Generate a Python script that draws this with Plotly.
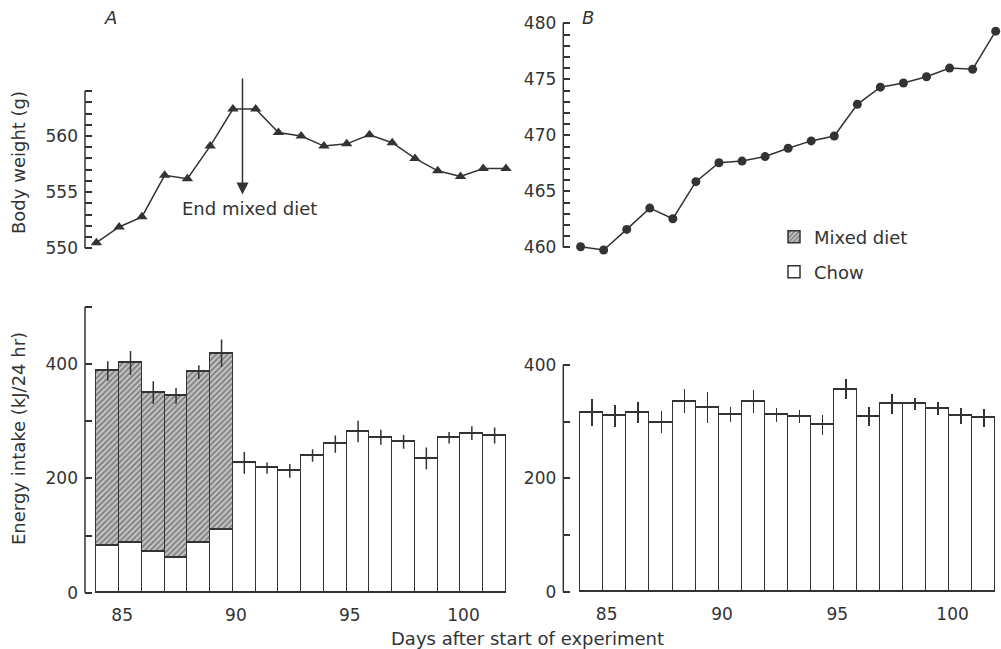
import plotly.graph_objects as go

# ---------------- data ----------------
weight_days = list(range(84, 103))
weight_A = [550.5, 551.9, 552.8, 556.5, 556.2, 559.1, 562.4, 562.4, 560.3, 560.0,
            559.1, 559.3, 560.1, 559.4, 558.0, 556.9, 556.4, 557.1, 557.1]
weight_B = [460.05, 459.76, 461.6, 463.5, 462.55, 465.86, 467.55, 467.7, 468.1, 468.84,
            469.5, 469.94, 472.77, 474.3, 474.67, 475.23, 476.0, 475.9, 479.3]

intake_days = list(range(84, 102))
intake_A = [388, 402, 350, 344, 386, 419, 227, 218, 213, 240, 260, 282, 272, 264, 235, 271, 279, 275]
chow_part_mixed_A = [83, 88, 72, 62, 88, 110]   # chow portion on mixed-diet days
err_A = [17, 21, 20, 14, 12, 24, 19, 10, 12, 11, 15, 19, 13, 12, 19, 10, 12, 14]
intake_B = [316, 310, 316, 299, 336, 325, 313, 336, 312, 309, 294, 357, 309, 331, 331, 323, 310, 307]
err_B = [23, 20, 19, 19, 21, 28, 13, 20, 12, 12, 18, 18, 17, 17, 10, 12, 14, 16]

x_ticks = [85, 90, 95, 100]
arrow_day = 90.42

# ---------------- styling ----------------
INK = "#333333"
FONT = "DejaVu Sans"
W, H = 1001, 649

n_mixed = len(chow_part_mixed_A)
bar_x = [d + 0.5 for d in intake_days]
chow_A = chow_part_mixed_A + intake_A[n_mixed:]
mixed_A = [intake_A[i] - chow_part_mixed_A[i] for i in range(n_mixed)]

fig = go.Figure()

# top panels: body weight
fig.add_trace(go.Scatter(x=weight_days, y=weight_A, mode="lines+markers",
                         line=dict(color=INK, width=1.5),
                         marker=dict(symbol="triangle-up", size=10, color=INK),
                         cliponaxis=False, showlegend=False, xaxis="x", yaxis="y"))
fig.add_trace(go.Scatter(x=weight_days, y=weight_B, mode="lines+markers",
                         line=dict(color=INK, width=1.5),
                         marker=dict(symbol="circle", size=9, color=INK),
                         cliponaxis=False, showlegend=False, xaxis="x2", yaxis="y2"))

# bottom A: stacked bars
fig.add_trace(go.Bar(x=bar_x, y=chow_A, width=1, name="Chow",
                     marker=dict(color="white", line=dict(color=INK, width=1.5)),
                     xaxis="x3", yaxis="y3", showlegend=True, legend="legend2"))
fig.add_trace(go.Bar(x=bar_x[:n_mixed], y=mixed_A, width=1, name="Mixed diet",
                     marker=dict(color="#bdbdbd",
                                 pattern=dict(shape="/", fgcolor="#333333", bgcolor="#c4c4c4",
                                              size=4, solidity=0.45),
                                 line=dict(color=INK, width=1.5)),
                     xaxis="x3", yaxis="y3", showlegend=True, legend="legend"))
fig.add_trace(go.Scatter(x=bar_x, y=intake_A, mode="markers",
                         marker=dict(size=1, opacity=0),
                         error_y=dict(type="data", array=err_A, width=0, thickness=1.5, color=INK),
                         showlegend=False, hoverinfo="skip", xaxis="x3", yaxis="y3"))

# bottom B
fig.add_trace(go.Bar(x=bar_x, y=intake_B, width=1, name="Chow B",
                     marker=dict(color="white", line=dict(color=INK, width=1.5)),
                     error_y=dict(type="data", array=err_B, width=0, thickness=1.5, color=INK),
                     xaxis="x4", yaxis="y4", showlegend=False))

tickfont = dict(family=FONT, size=17, color=INK)
textfont = dict(family=FONT, size=18, color=INK)

def px_x(a, b):
    return [a / W, b / W]

def px_y(top, bottom):
    return [1 - bottom / H, 1 - top / H]

xA = px_x(85, 506)
xB = px_x(563.3, 995.7)

hidden_x = dict(showgrid=False, zeroline=False, showline=False, ticks="",
                showticklabels=False, automargin=False)
bottom_x = dict(showgrid=False, zeroline=False, showline=False, ticks="",
                tickvals=x_ticks, tickfont=tickfont, ticklabelstandoff=8,
                ticklabelshift=3, automargin=False)

def yax(vals, labels_every, rng, dom, anchor):
    return dict(range=rng, domain=dom, anchor=anchor, showgrid=False, zeroline=False,
                showline=False, ticks="inside", ticklen=7, tickwidth=1.5, tickcolor=INK,
                tickvals=vals, automargin=False,
                ticktext=[str(v) if (v - vals[0]) % labels_every == 0 else "" for v in vals],
                tickfont=tickfont, ticklabelstandoff=6)

legend_common = dict(xanchor="left", yanchor="middle", font=textfont,
                     bgcolor="rgba(0,0,0,0)", itemwidth=30)

fig.update_layout(
    width=W, height=H, autosize=False,
    margin=dict(l=0, r=0, t=0, b=0, pad=0, autoexpand=False),
    paper_bgcolor="white", plot_bgcolor="rgba(0,0,0,0)",
    barmode="stack", bargap=0,
    font=dict(family=FONT, color=INK),
    xaxis=dict(hidden_x, range=[83.5, 102], domain=xA, anchor="y"),
    yaxis=yax(list(range(550, 565)), 5, [549.6, 565.5], px_y(74.2, 252.8), "x"),
    xaxis2=dict(hidden_x, range=[83.25, 102], domain=xB, anchor="y2"),
    yaxis2=yax(list(range(460, 481)), 5, [459.5, 480.5], px_y(17.7, 252.9), "x2"),
    xaxis3=dict(bottom_x, range=[83.5, 102], domain=xA, anchor="y3"),
    yaxis3=yax(list(range(0, 501, 100)), 200, [-4, 504], px_y(304.6, 595.0), "x3"),
    xaxis4=dict(bottom_x, range=[83.25, 102], domain=xB, anchor="y4"),
    yaxis4=yax(list(range(0, 401, 100)), 200, [-4, 404], px_y(362.6, 594.0), "x4"),
    legend=dict(legend_common, x=774 / W, y=1 - 237 / H),
    legend2=dict(legend_common, x=774 / W, y=1 - 272 / H),
    showlegend=True,
)

# axis lines ("[" shaped)
for xr, yr, y0, y1 in [("x domain", "y", 550, 564), ("x2 domain", "y2", 460, 480),
                       ("x3 domain", "y3", 0, 500), ("x4 domain", "y4", 0, 400)]:
    fig.add_shape(type="line", xref=xr, yref=yr, x0=0, x1=0, y0=y0, y1=y1,
                  line=dict(color=INK, width=1.5))

# arrow "End mixed diet"
fig.add_annotation(x=arrow_day, y=554.8, ax=arrow_day, ay=565.25, xref="x", yref="y",
                   axref="x", ayref="y", text="", showarrow=True, arrowhead=2,
                   arrowsize=1.6, arrowwidth=1.5, arrowcolor=INK, standoff=0)
fig.add_annotation(x=90.75, y=553.5, xref="x", yref="y", text="End mixed diet",
                   showarrow=False, xanchor="center", yanchor="middle", font=textfont)

# panel letters
for letter, px in [("A", 110), ("B", 588)]:
    fig.add_annotation(x=px / W, y=1 - 18 / H, xref="paper", yref="paper",
                       text=f"<i>{letter}</i>", showarrow=False,
                       xanchor="center", yanchor="middle", font=textfont)

# axis titles
fig.add_annotation(x=18 / W, y=1 - 163 / H, xref="paper", yref="paper",
                   text="Body weight (g)", textangle=-90, showarrow=False,
                   xanchor="center", yanchor="middle", font=textfont)
fig.add_annotation(x=18 / W, y=1 - 439 / H, xref="paper", yref="paper",
                   text="Energy intake (kJ/24 hr)", textangle=-90, showarrow=False,
                   xanchor="center", yanchor="middle", font=textfont)
fig.add_annotation(x=527 / W, y=1 - 638 / H, xref="paper", yref="paper",
                   text="Days after start of experiment", showarrow=False,
                   xanchor="center", yanchor="middle", font=textfont)

fig.write_html("out.html",
               config={"responsive": False, "displayModeBar": False},
               post_script="document.body.style.margin='0px';"
                           "document.documentElement.style.overflow='hidden';")
